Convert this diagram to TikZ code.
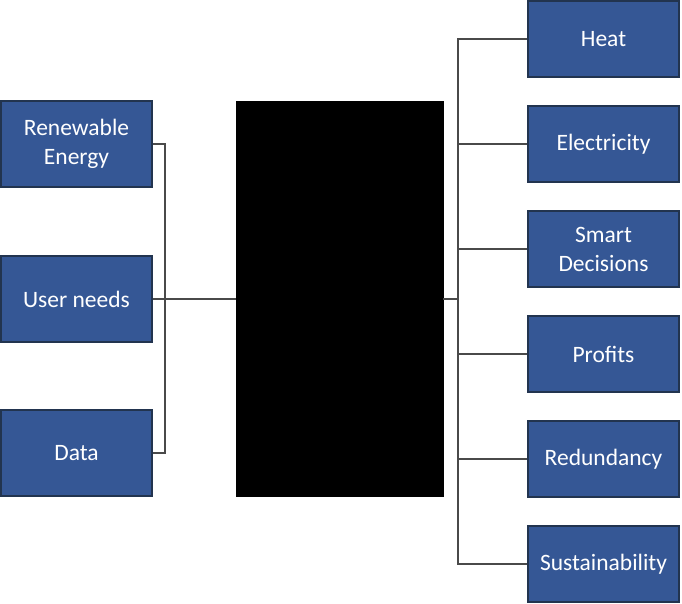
\documentclass[tikz,border=0pt]{standalone}
\usepackage{fontspec}
\setmainfont{Carlito}
\definecolor{boxblue}{HTML}{355795}
\definecolor{boxedge}{HTML}{22344F}
\definecolor{linegray}{HTML}{4A4A4A}
\begin{document}
\begin{tikzpicture}[x=1pt,y=-1pt,
  bluebox/.style={draw=boxedge,line width=1.2pt,fill=boxblue,text=white,
    font=\fontsize{23.5}{29}\selectfont,align=center,inner sep=0pt},
  leftbox/.style={bluebox,minimum width=151pt,minimum height=86pt},
  rightbox/.style={bluebox,minimum width=151pt,minimum height=76pt},
  conn/.style={draw=linegray,line width=1.1pt}]
\useasboundingbox (0,0) rectangle (682,603);
\node[leftbox] (ren) at (76.5,144) {Renewable\\Energy};
\node[leftbox] (usr) at (76.5,299) {User needs};
\node[leftbox] (dat) at (76.5,453) {Data};
\node[draw=black,fill=black,minimum width=207pt,minimum height=395pt,inner sep=0pt] (ctr) at (339.5,299) {};
\node[rightbox] (heat) at (603.5,39) {Heat};
\node[rightbox] (elec) at (603.5,144) {Electricity};
\node[rightbox] (smart) at (603.5,249) {Smart\\Decisions};
\node[rightbox] (prof) at (603.5,354) {Profits};
\node[rightbox] (red) at (603.5,459) {Redundancy};
\node[rightbox] (sus) at (603.5,564) {Sustainability};
\coordinate (lj) at (165,299);
\coordinate (rj) at (458,299);
\draw[conn] (ren.east) -| (lj) |- (dat.east);
\draw[conn] (usr.east) -- (ctr.west);
\draw[conn] (ctr.east) -- (rj);
\draw[conn] (heat.west) -| (rj) |- (sus.west);
\draw[conn] (rj |- elec.west) -- (elec.west);
\draw[conn] (rj |- smart.west) -- (smart.west);
\draw[conn] (rj |- prof.west) -- (prof.west);
\draw[conn] (rj |- red.west) -- (red.west);
\end{tikzpicture}
\end{document}
